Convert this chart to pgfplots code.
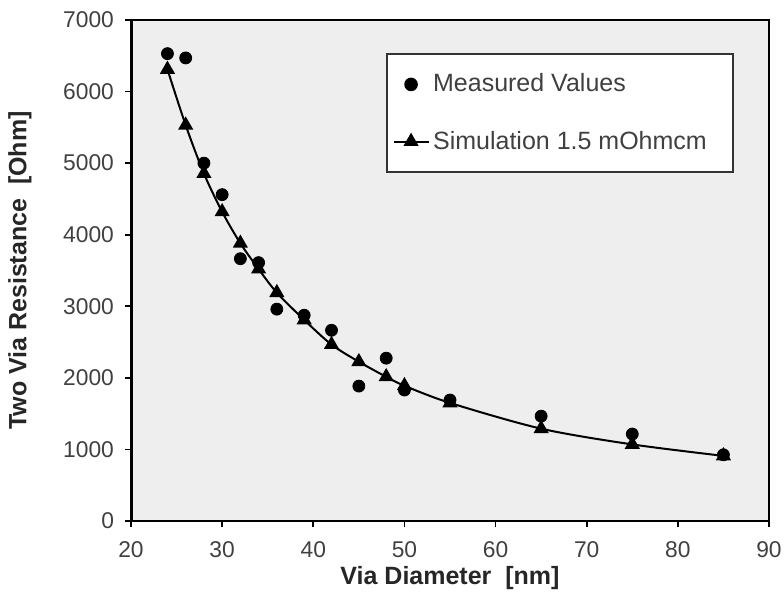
\documentclass[border=0pt]{standalone}
\usepackage{pgfplots}
\pgfplotsset{compat=1.18}
\usepackage{fontspec}
\setmainfont{Liberation Sans}
\definecolor{plotbg}{HTML}{EEEEEE}
\definecolor{tickc}{HTML}{404040}
\definecolor{labc}{HTML}{262626}
\definecolor{legc}{HTML}{333333}

\begin{document}
\begin{tikzpicture}
\begin{axis}[
  scale only axis,
  width=319pt, height=250.5pt,
  xmin=20, xmax=90, ymin=0, ymax=7000,
  xtick={20,30,...,90}, ytick={0,1000,...,7000},
  axis background/.style={fill=plotbg},
  axis line style={black, line width=1pt},
  tick align=outside, xtick pos=left, ytick pos=left,
  major tick length=3pt,
  tick style={black, line width=0.8pt},
  /pgf/number format/assume math mode=true,
  /pgf/number format/1000 sep={},
  ticklabel style={font=\fontsize{11.4}{13}\selectfont, text=tickc},
  xticklabel style={yshift=-4pt},
  yticklabel style={xshift=-2pt},
  xlabel={\textbf{Via Diameter~ [nm]}},
  ylabel={\textbf{Two Via Resistance~ [Ohm]}},
  label style={font=\fontsize{12.5}{14}\selectfont, text=labc},
  xlabel style={at={(axis description cs:0.5,-0.114)}, anchor=center},
  ylabel style={at={(axis description cs:-0.174,0.5)}, anchor=center},
  legend style={at={(axis description cs:0.4,0.934)}, anchor=north west,
    draw=legc, line width=0.8pt, fill=white,
    font=\fontsize{12.5}{15}\selectfont, text=tickc,
    inner xsep=3pt, inner ysep=8pt, row sep=14pt},
  legend cell align=left,
]
% measured values
\addplot[only marks, mark=*, mark size=3pt, black]
  coordinates {(24,6530) (26,6470) (28,5000) (30,4560) (32,3665) (34,3610)
    (36,2960) (39,2875) (42,2665) (45,1885) (48,2275) (50,1830)
    (55,1690) (65,1465) (75,1215) (85,925)};
\addlegendentry{Measured Values}
% simulation
\addplot[black, line width=1pt, smooth, mark=triangle*, mark size=3.4pt,
  mark options={solid}]
  coordinates {(24,6310) (26,5530) (28,4855) (30,4320) (32,3880) (34,3520)
    (36,3190) (39,2810) (42,2465) (45,2225) (48,2015) (50,1890)
    (55,1650) (65,1290) (75,1070) (85,910)};
\addlegendentry{Simulation 1.5 mOhmcm\rule{8pt}{0pt}}
\draw[black, line width=1.5pt] (rel axis cs:0,1) -- (rel axis cs:0,0) -- (rel axis cs:1,0);
\coordinate (bl) at (rel axis cs:0,0);
\coordinate (tr) at (rel axis cs:1,1);
\end{axis}
\pgfresetboundingbox
\path ([shift={(-65.5pt,-38.5pt)}]bl) rectangle ([shift={(7.5pt,10pt)}]tr);
\end{tikzpicture}
\end{document}
